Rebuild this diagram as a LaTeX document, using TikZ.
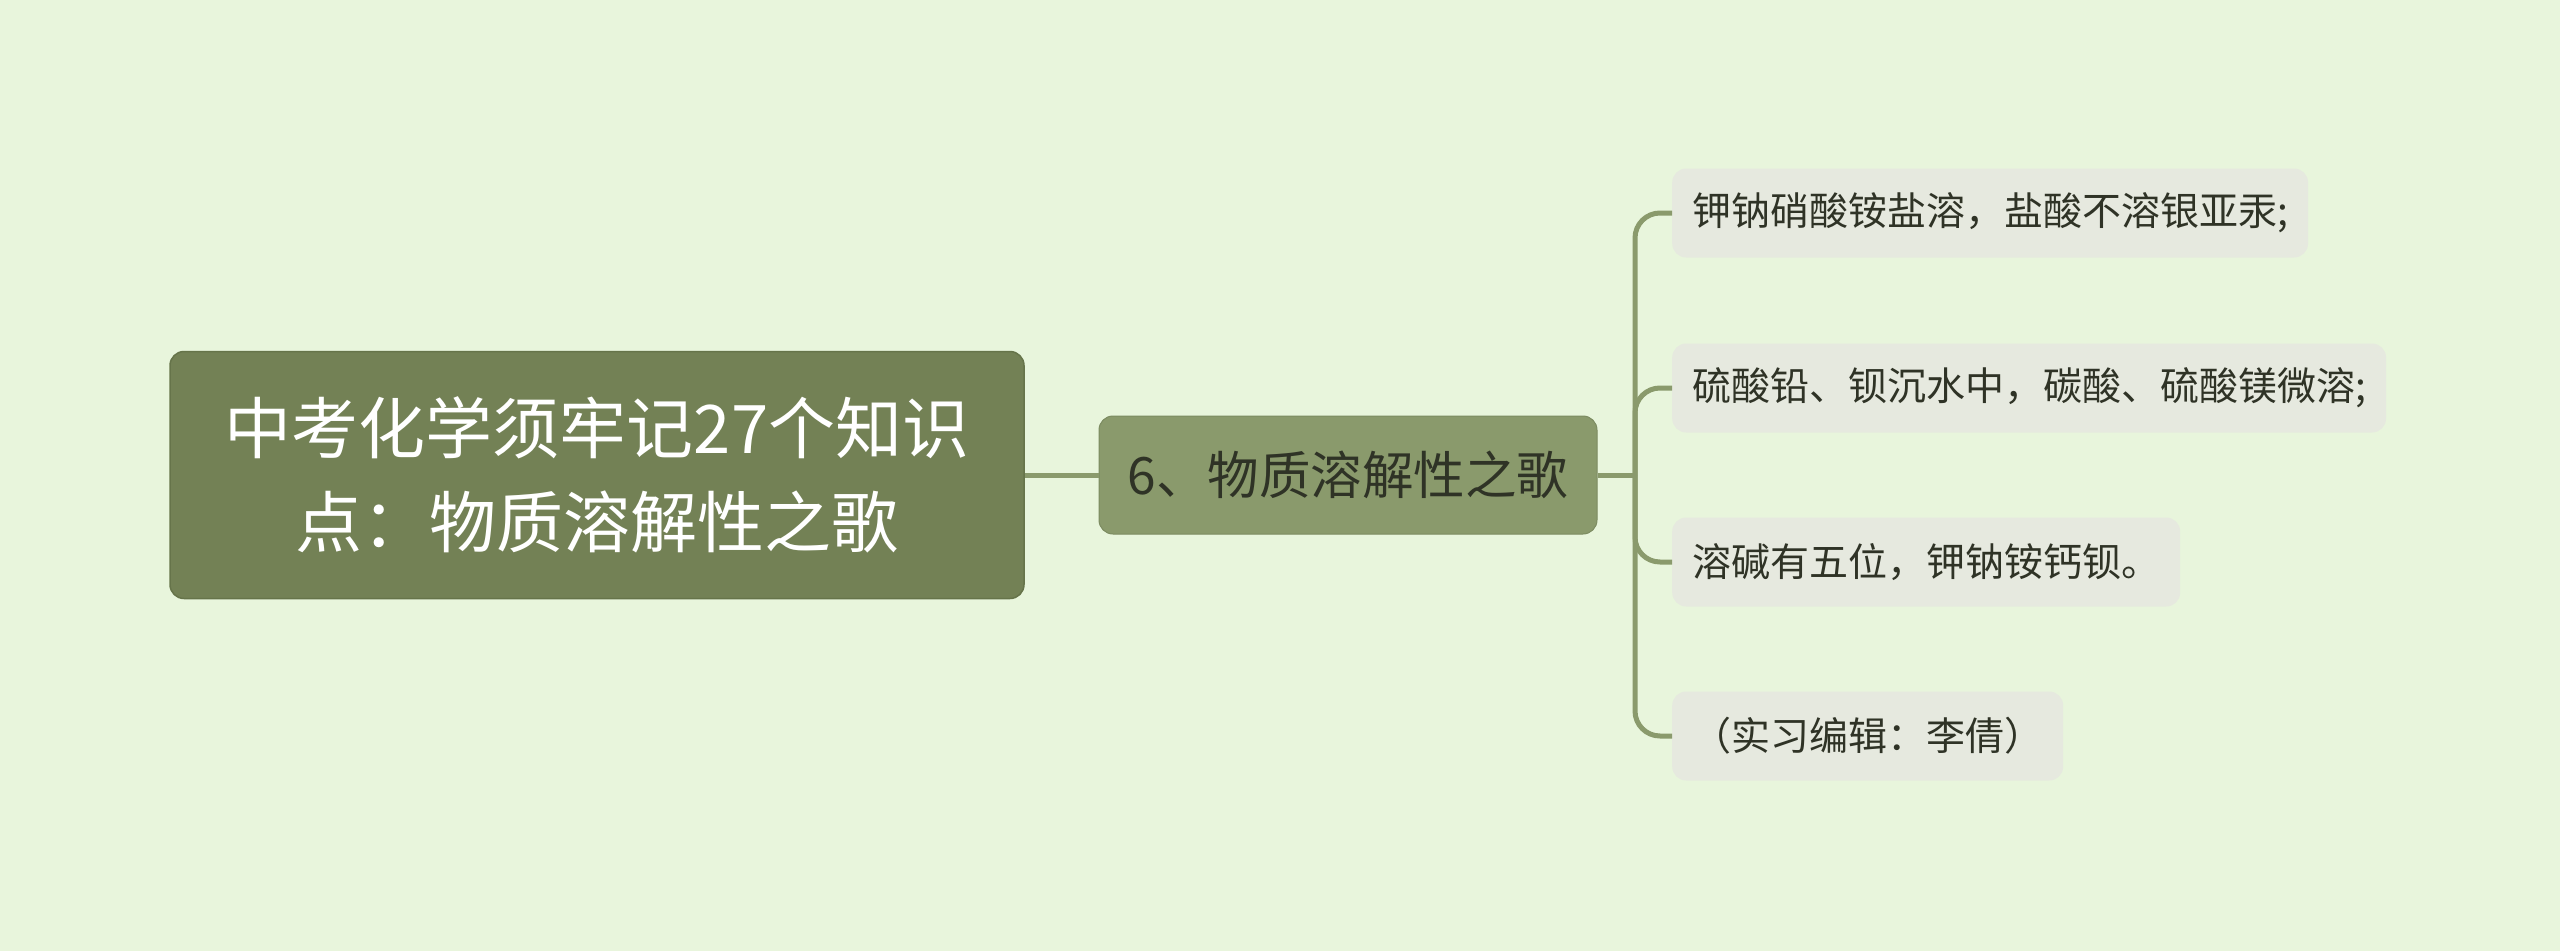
\documentclass[tikz,border=0pt]{standalone}
\usepackage{fontspec}
\setmainfont{Noto Sans CJK SC}
\definecolor{bg}{HTML}{E8F5DC}
\definecolor{rootfill}{HTML}{738155}
\definecolor{rootdraw}{HTML}{66744A}
\definecolor{midfill}{HTML}{8A9A6C}
\definecolor{leaffill}{HTML}{E6E9DF}
\definecolor{linecol}{HTML}{8A9A6C}
\definecolor{txt}{HTML}{2F3326}
\tikzset{
  rootbox/.style={draw=rootdraw, line width=1.5pt, fill=rootfill, rounded corners=14pt,
    minimum width=854pt, minimum height=247pt, inner sep=0pt, align=center,
    text=white, font=\fontsize{67}{94}\selectfont},
  midbox/.style={draw=midfill!90!black, line width=1pt, fill=midfill, rounded corners=14pt,
    minimum width=498pt, minimum height=118pt, inner sep=0pt,
    text=txt, font=\fontsize{51.5}{60}\selectfont},
  leafbox/.style={fill=leaffill, rounded corners=14pt, anchor=west,
    minimum height=89pt, inner xsep=20pt, inner ysep=0pt,
    text=txt, font=\fontsize{39}{46}\selectfont},
  conn/.style={draw=linecol, line width=5pt},
}
\begin{document}
\begin{tikzpicture}[x=1pt,y=-1pt]
\path[fill=bg] (0,0) rectangle (2560,951);
\useasboundingbox (0,0) rectangle (2560,951);
\node[rootbox] (root) at (597,475) {中考化学须牢记27个知识\\点：物质溶解性之歌};
\node[midbox] (mid) at (1348,475) {6、物质溶解性之歌};
\coordinate (j) at (1635,475);
\node[leafbox] (l1) at (1672,213) {钾钠硝酸铵盐溶，盐酸不溶银亚汞;};
\node[leafbox] (l2) at (1672,388) {硫酸铅、钡沉水中，碳酸、硫酸镁微溶;};
\node[leafbox] (l3) at (1672,562) {溶碱有五位，钾钠铵钙钡。};
\node[leafbox] (l4) at (1672,736) {（实习编辑：李倩）};
\draw[conn] (root.east) -- (mid.west);
\draw[conn] (mid.east) -- (j);
\draw[conn, rounded corners=25pt] (j) |- (l1.west);
\draw[conn, rounded corners=25pt] (j) |- (l2.west);
\draw[conn, rounded corners=25pt] (j) |- (l3.west);
\draw[conn, rounded corners=25pt] (j) |- (l4.west);
\end{tikzpicture}
\end{document}
